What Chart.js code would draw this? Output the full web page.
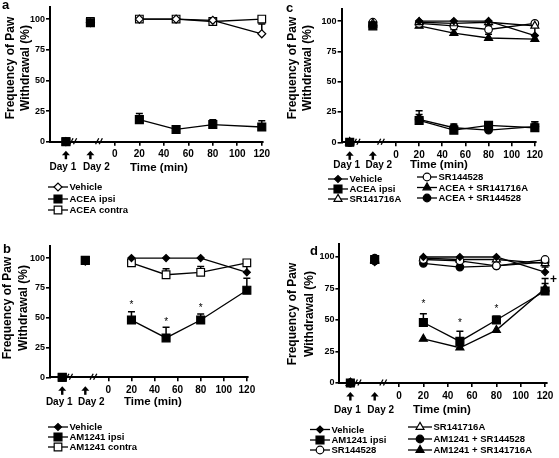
<!DOCTYPE html>
<html>
<head>
<meta charset="utf-8">
<script src="https://cdn.jsdelivr.net/npm/chart.js@4.4.1/dist/chart.umd.min.js"></script>
<style>
  body { margin: 0; background: #fff; }
  .panel { position: absolute; }
  canvas { display: block; }
</style>
</head>
<body>
<div class="panel" style="left:0;top:0"><canvas id="ca" width="280" height="228"></canvas></div>
<div class="panel" style="left:280px;top:0"><canvas id="cc" width="279" height="228"></canvas></div>
<div class="panel" style="left:0;top:228px"><canvas id="cb" width="280" height="230"></canvas></div>
<div class="panel" style="left:280px;top:228px"><canvas id="cd" width="279" height="230"></canvas></div>
<script>
// x positions: two baseline days, then minutes after injection
const DAY1 = -40, DAY2 = -20;
const times = [20, 50, 80, 120];
const xTicks = [0, 20, 40, 60, 80, 100, 120];
const yTicks = [0, 25, 50, 75, 100];
const breakMarks = [-34, -13];

// every series: [Day 1, Day 2, 20, 50, 80, 120 min]
// panel a
const aVehicle = [0, 97, 100, 100, 99, 88];
const aVehicleErr = [0, 0, 0, 0, 1, 8];
const aAceaIpsi = [0, 97, 18, 10, 14, 12];
const aAceaIpsiErr = [0, 1, 5, 2, 4, 5];
const aAceaContra = [0, 98, 100, 100, 98, 100];
const aAceaContraErr = [0, 0, 0, 0, 1, 0];

// panel b
const bVehicle = [0, 97, 100, 100, 100, 88];
const bVehicleErr = [0, 0, 0, 0, 0, 8];
const bAmIpsi = [0, 98, 48, 33, 48, 73];
const bAmIpsiErr = [0, 2, 7, 9, 5, 10];
const bAmContra = [0, 98, 96, 86, 88, 96];
const bAmContraErr = [0, 0, 1, 5, 5, 1];
const bStars = [62, 48, 59.5];

// panel c
const cVehicle = [0, 97, 100, 100, 100, 88];
const cVehicleErr = [0, 0, 0, 0, 0, 7];
const cAceaIpsi = [0, 96, 18, 10, 14, 12];
const cAceaIpsiErr = [0, 0, 8, 4, 3, 5];
const cSr1417 = [0, 98, 99, 98, 99, 96];
const cSr1417Err = [0, 0, 0, 0, 0, 0];
const cSr1445 = [0, 99, 98, 96, 93, 98];
const cSr1445Err = [0, 0, 1, 2, 3, 1];
const cAceaSr1417 = [0, 97, 96, 90, 86, 85];
const cAceaSr1417Err = [0, 0, 2, 3, 3, 3];
const cAceaSr1445 = [0, 97, 19, 12, 10, 13];
const cAceaSr1445Err = [0, 0, 4, 3, 4, 4];

// panel d
const dVehicle = [0, 96, 100, 100, 100, 88];
const dVehicleErr = [0, 0, 0, 0, 0, 4];
const dAmIpsi = [0, 98, 48, 33, 50, 73];
const dAmIpsiErr = [0, 2, 7, 8, 3, 10];
const dSr1445 = [0, 99, 98, 97, 93, 98];
const dSr1445Err = [0, 0, 1, 1, 1, 1];
const dSr1417 = [0, 98, 99, 98, 98, 95];
const dSr1417Err = [0, 0, 0, 0, 0, 0];
const dAmSr1445 = [0, 97, 95, 92, 93, 96];
const dAmSr1445Err = [0, 0, 0, 0, 0, 0];
const dAmSr1417 = [0, 97, 35, 28, 42, 75];
const dAmSr1417Err = [0, 0, 0, 0, 0, 4];
const dStars = [64.5, 49.4, 60.6];
const dPlus = {x: 127, y: 82};

const MARK = {
  diamond: {pointStyle: 'rectRot', radius: 3.5, fill: '#000'},
  diamondOpen: {pointStyle: 'rectRot', radius: 4, fill: '#fff'},
  square: {pointStyle: 'rect', radius: 5.6, fill: '#000'},
  squareOpen: {pointStyle: 'rect', radius: 5.4, fill: '#fff'},
  circle: {pointStyle: 'circle', radius: 3.8, fill: '#000'},
  circleOpen: {pointStyle: 'circle', radius: 3.8, fill: '#fff'},
  triangle: {pointStyle: 'triangle', radius: 4.6, fill: '#000'},
  triangleOpen: {pointStyle: 'triangle', radius: 4.6, fill: '#fff'}
};

const FONT = '"Liberation Sans", Arial, sans-serif';

const panels = [
  {
    canvas: 'ca', letter: 'a', letterPos: [2, 9],
    box: {left: 50, right: 263, top: 1.6, bottom: 141.7, xMin: -53},
    yTitle: {x1: 11, x2: 26, cy: 68}, dayDy: 26, timeX: 130,
    series: [
      {label: 'Vehicle', vals: aVehicle, err: aVehicleErr, mark: 'diamondOpen'},
      {label: 'ACEA ipsi', vals: aAceaIpsi, err: aAceaIpsiErr, mark: 'square'},
      {label: 'ACEA contra', vals: aAceaContra, err: aAceaContraErr, mark: 'squareOpen'}
    ],
    legend: [[48, 187], [48, 199], [48, 210]]
  },
  {
    canvas: 'cc', letter: 'c', letterPos: [6, 12],
    box: {left: 61.6, right: 256, top: 8.9, bottom: 142.3, xMin: -47},
    yTitle: {x1: 13, x2: 28, cy: 68}, dayDy: 23, timeX: 130,
    series: [
      {label: 'Vehicle', vals: cVehicle, err: cVehicleErr, mark: 'diamond'},
      {label: 'ACEA ipsi', vals: cAceaIpsi, err: cAceaIpsiErr, mark: 'square'},
      {label: 'SR141716A', vals: cSr1417, err: cSr1417Err, mark: 'triangleOpen'},
      {label: 'SR144528', vals: cSr1445, err: cSr1445Err, mark: 'circleOpen'},
      {label: 'ACEA + SR141716A', vals: cAceaSr1417, err: cAceaSr1417Err, mark: 'triangle'},
      {label: 'ACEA + SR144528', vals: cAceaSr1445, err: cAceaSr1445Err, mark: 'circle'}
    ],
    legend: [[48, 179], [48, 189], [48, 199], [137, 177], [137, 187.5], [137, 198]]
  },
  {
    canvas: 'cb', letter: 'b', letterPos: [3, 25],
    box: {left: 50, right: 248, top: 18.1, bottom: 149.3, xMin: -50.6},
    yTitle: {x1: 8, x2: 24, cy: 80}, dayDy: 25, timeX: 124,
    series: [
      {label: 'Vehicle', vals: bVehicle, err: bVehicleErr, mark: 'diamond'},
      {label: 'AM1241 ipsi', vals: bAmIpsi, err: bAmIpsiErr, mark: 'square'},
      {label: 'AM1241 contra', vals: bAmContra, err: bAmContraErr, mark: 'squareOpen'}
    ],
    legend: [[48, 199], [48, 209], [48, 219]],
    stars: bStars
  },
  {
    canvas: 'cd', letter: 'd', letterPos: [30, 27],
    box: {left: 59.4, right: 266.3, top: 16.4, bottom: 155, xMin: -49},
    yTitle: {x1: 13, x2: 30, cy: 86}, dayDy: 27, timeX: 133,
    series: [
      {label: 'Vehicle', vals: dVehicle, err: dVehicleErr, mark: 'diamond'},
      {label: 'AM1241 ipsi', vals: dAmIpsi, err: dAmIpsiErr, mark: 'square'},
      {label: 'SR144528', vals: dSr1445, err: dSr1445Err, mark: 'circleOpen'},
      {label: 'SR141716A', vals: dSr1417, err: dSr1417Err, mark: 'triangleOpen'},
      {label: 'AM1241 + SR144528', vals: dAmSr1445, err: dAmSr1445Err, mark: 'circle'},
      {label: 'AM1241 + SR141716A', vals: dAmSr1417, err: dAmSr1417Err, mark: 'triangle'}
    ],
    legend: [[30, 201.5], [30, 212], [30, 222], [128, 199], [128, 211], [128, 222]],
    legendLen: [20, 20, 20, 24, 24, 24],
    stars: dStars, plus: dPlus
  }
];

function xOf(i) {
  return i === 0 ? DAY1 : i === 1 ? DAY2 : times[i - 2];
}

function points(vals) {
  const out = [{x: DAY1, y: vals[0]}, {x: (DAY1 + DAY2) / 2, y: null}, {x: DAY2, y: vals[1]}, {x: 0, y: null}];
  times.forEach((t, i) => out.push({x: t, y: vals[i + 2]}));
  return out;
}

function drawMarker(ctx, mark, x, y) {
  const m = MARK[mark];
  ctx.fillStyle = m.fill;
  ctx.strokeStyle = '#000';
  ctx.lineWidth = 1.2;
  Chart.helpers.drawPoint(ctx, {pointStyle: m.pointStyle, radius: m.radius, rotation: 0, borderWidth: 1.2}, x, y);
}

function decorPlugin(p) {
  return {
    id: 'decor',
    beforeDatasetsDraw(chart) {
      const ctx = chart.ctx, xs = chart.scales.x, ys = chart.scales.y;
      ctx.save();
      ctx.strokeStyle = '#000';
      ctx.lineWidth = 1.5;
      p.series.forEach(s => {
        s.err.forEach((e, i) => {
          if (!e) return;
          const px = xs.getPixelForValue(xOf(i));
          const y0 = ys.getPixelForValue(s.vals[i]);
          const y1 = ys.getPixelForValue(s.vals[i] + e);
          ctx.beginPath();
          ctx.moveTo(px, y0); ctx.lineTo(px, y1);
          ctx.moveTo(px - 3.5, y1); ctx.lineTo(px + 3.5, y1);
          ctx.stroke();
        });
      });
      ctx.restore();
    },
    afterDraw(chart) {
      const ctx = chart.ctx, xs = chart.scales.x, ys = chart.scales.y;
      const axisY = chart.chartArea.bottom;
      ctx.save();
      ctx.fillStyle = '#000';
      ctx.strokeStyle = '#000';

      // axis break marks
      ctx.lineWidth = 1.3;
      breakMarks.forEach(v => {
        const bx = xs.getPixelForValue(v);
        [-1.8, 1.8].forEach(o => {
          ctx.beginPath();
          ctx.moveTo(bx + o - 1.6, axisY + 2.5);
          ctx.lineTo(bx + o + 1.6, axisY - 3.5);
          ctx.stroke();
        });
      });

      // arrows and day labels
      [[DAY1, 'Day 1', -3], [DAY2, 'Day 2', 6]].forEach(([v, txt, off]) => {
        const ax = xs.getPixelForValue(v);
        const top = axisY + 9;
        ctx.beginPath();
        ctx.moveTo(ax, top); ctx.lineTo(ax + 4, top + 4.5); ctx.lineTo(ax - 4, top + 4.5);
        ctx.closePath(); ctx.fill();
        ctx.fillRect(ax - 1.2, top + 3, 2.4, 5.5);
        ctx.font = 'bold 10px ' + FONT;
        ctx.textAlign = 'center';
        ctx.textBaseline = 'middle';
        ctx.fillText(txt, ax + off, axisY + p.dayDy);
      });
      ctx.font = 'bold 11.5px ' + FONT;
      ctx.textAlign = 'left';
      ctx.fillText('Time (min)', p.timeX, axisY + p.dayDy);

      // y-axis title
      ctx.font = 'bold 12px ' + FONT;
      ctx.textAlign = 'center';
      [[p.yTitle.x1, 'Frequency of Paw'], [p.yTitle.x2, 'Withdrawal (%)']].forEach(([tx, txt]) => {
        ctx.save();
        ctx.translate(tx, p.yTitle.cy);
        ctx.rotate(-Math.PI / 2);
        ctx.fillText(txt, 0, 0);
        ctx.restore();
      });

      // panel letter
      ctx.font = 'bold 13px ' + FONT;
      ctx.textAlign = 'left';
      ctx.textBaseline = 'alphabetic';
      ctx.fillText(p.letter, p.letterPos[0], p.letterPos[1]);

      // significance marks
      ctx.font = '10px ' + FONT;
      ctx.textAlign = 'center';
      (p.stars || []).forEach((v, i) => {
        ctx.fillText('*', xs.getPixelForValue(times[i]), ys.getPixelForValue(v) + 5);
      });
      if (p.plus) {
        ctx.font = 'bold 12px ' + FONT;
        ctx.textBaseline = 'middle';
        ctx.fillText('+', xs.getPixelForValue(p.plus.x), ys.getPixelForValue(p.plus.y));
      }

      // legend
      p.legend.forEach(([lx, ly], i) => {
        const s = p.series[i];
        const len = p.legendLen ? p.legendLen[i] : 20;
        ctx.strokeStyle = '#000';
        ctx.lineWidth = 1.3;
        ctx.beginPath();
        ctx.moveTo(lx, ly); ctx.lineTo(lx + len, ly);
        ctx.stroke();
        drawMarker(ctx, s.mark, lx + len / 2, ly);
        ctx.fillStyle = '#000';
        ctx.font = 'bold 9.5px ' + FONT;
        ctx.textAlign = 'left';
        ctx.textBaseline = 'middle';
        ctx.fillText(s.label, lx + len + 1.5, ly + 0.5);
      });
      ctx.restore();
    }
  };
}

function makePanel(p) {
  const canvas = document.getElementById(p.canvas);
  const W = canvas.width, H = canvas.height;
  const datasets = p.series.map((s, i) => {
    const m = MARK[s.mark];
    return {
      label: s.label,
      data: points(s.vals),
      order: s.mark === 'square' ? -1 : i,
      borderColor: '#000',
      borderWidth: 1.3,
      pointStyle: m.pointStyle,
      pointRadius: m.radius,
      pointBackgroundColor: m.fill,
      pointBorderColor: '#000',
      pointBorderWidth: 1.2,
      spanGaps: false,
      clip: false,
      fill: false
    };
  });
  new Chart(canvas, {
    type: 'line',
    data: {datasets},
    options: {
      responsive: false,
      animation: false,
      devicePixelRatio: 1,
      layout: {padding: {left: 0, right: W - p.box.right, top: p.box.top, bottom: 0}},
      plugins: {legend: {display: false}, tooltip: {enabled: false}},
      scales: {
        x: {
          type: 'linear', min: p.box.xMin, max: 121,
          afterFit: sc => { sc.height = H - p.box.bottom; },
          afterBuildTicks: sc => { sc.ticks = xTicks.map(v => ({value: v})); },
          border: {display: true, color: '#000', width: 2},
          grid: {drawOnChartArea: false, drawTicks: true, tickLength: 4, tickColor: '#000', lineWidth: 1.6},
          ticks: {color: '#000', font: {family: FONT, size: 10, weight: 'bold'}, padding: 3, maxRotation: 0, autoSkip: false}
        },
        y: {
          type: 'linear', min: 0, max: 110,
          afterFit: sc => { sc.width = p.box.left; },
          afterBuildTicks: sc => { sc.ticks = yTicks.map(v => ({value: v})); },
          border: {display: true, color: '#000', width: 2},
          grid: {drawOnChartArea: false, drawTicks: true, tickLength: 4, tickColor: '#000', lineWidth: 1.6},
          ticks: {color: '#000', font: {family: FONT, size: 9, weight: 'bold'}, padding: 1, autoSkip: false}
        }
      }
    },
    plugins: [decorPlugin(p)]
  });
}

panels.forEach(makePanel);
</script>
</body>
</html>
